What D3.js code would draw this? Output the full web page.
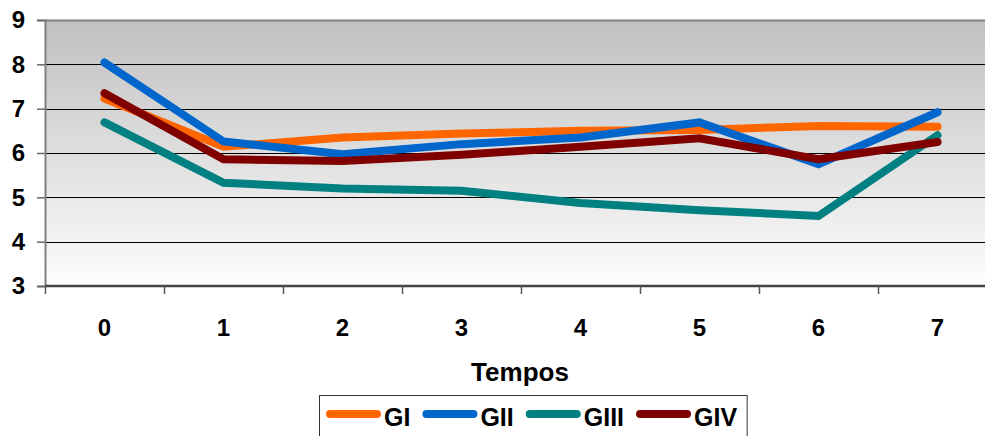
<!DOCTYPE html>
<html>
<head>
<meta charset="utf-8">
<script src="https://cdn.jsdelivr.net/npm/d3@7"></script>
<style>
  body { margin: 0; background: #fff; }
  svg { display: block; font-family: Arial, "Liberation Sans", sans-serif; }
</style>
</head>
<body>
<svg width="985" height="436"></svg>
<script>
const width = 985;
const height = 436;

const tempos = [0, 1, 2, 3, 4, 5, 6, 7];
const yTicks = [3, 4, 5, 6, 7, 8, 9];
const seriesNames = ["GI", "GII", "GIII", "GIV"];
const colors = ["#ff6600", "#0066cc", "#008080", "#800000"];

const GI = [7.23, 6.14, 6.35, 6.44, 6.50, 6.52, 6.61, 6.59];
const GII = [8.04, 6.26, 5.97, 6.20, 6.35, 6.69, 5.75, 6.92];
const GIII = [6.69, 5.33, 5.20, 5.15, 4.87, 4.71, 4.58, 6.40];
const GIV = [7.35, 5.86, 5.82, 5.96, 6.14, 6.33, 5.86, 6.25];
const values = [GI, GII, GIII, GIV];

// area of the plot (right side runs past the picture)
const plot = { left: 45, top: 20, bottom: 286, band: 119 };

const svg = d3.select("svg");

const x = d3.scaleBand()
    .domain(tempos)
    .range([plot.left, plot.left + plot.band * tempos.length]);
const y = d3.scaleLinear().domain([3, 9]).range([plot.bottom, plot.top]);

// fondo degradado
const grad = svg.append("defs").append("linearGradient")
    .attr("id", "bg").attr("x1", 0).attr("y1", 0).attr("x2", 0).attr("y2", 1);
grad.append("stop").attr("offset", "0%").attr("stop-color", "#c0c0c0");
grad.append("stop").attr("offset", "100%").attr("stop-color", "#fdfdfd");

svg.append("rect")
    .attr("x", plot.left)
    .attr("y", plot.top)
    .attr("width", x.range()[1] - plot.left)
    .attr("height", plot.bottom - plot.top)
    .attr("fill", "url(#bg)");

// líneas de cuadrícula
svg.append("g")
    .selectAll("line")
    .data(yTicks.filter((d) => d > 3 && d < 9))
    .join("line")
    .attr("x1", plot.left)
    .attr("x2", width)
    .attr("y1", (d) => Math.round(y(d)) + 0.5)
    .attr("y2", (d) => Math.round(y(d)) + 0.5)
    .attr("stroke", "#000")
    .attr("stroke-width", 1);

// borde superior
svg.append("line")
    .attr("x1", plot.left).attr("x2", width)
    .attr("y1", plot.top + 0.5).attr("y2", plot.top + 0.5)
    .attr("stroke", "#808080").attr("stroke-width", 2);

// eje Y
const yAxis = d3.axisLeft(y)
    .tickValues(yTicks)
    .tickFormat(d3.format("d"))
    .tickSize(8)
    .tickPadding(12);
const yAxisG = svg.append("g")
    .attr("transform", `translate(${plot.left},0)`)
    .call(yAxis);
yAxisG.select(".domain").attr("stroke", "#808080").attr("stroke-width", 2);
yAxisG.selectAll(".tick line").attr("stroke", "#666").attr("stroke-width", 1.5);
yAxisG.selectAll(".tick text")
    .attr("font-size", 24)
    .attr("font-weight", "bold")
    .attr("fill", "#000")
    .attr("font-family", "Arial, 'Liberation Sans', sans-serif");

// eje X
const xAxisG = svg.append("g").attr("transform", `translate(0,${plot.bottom})`);
xAxisG.append("line")
    .attr("x1", plot.left).attr("x2", width)
    .attr("y1", 0).attr("y2", 0)
    .attr("stroke", "#444").attr("stroke-width", 2.5);
xAxisG.selectAll(".xtick")
    .data(tempos)
    .join("line")
    .attr("class", "xtick")
    .attr("x1", (d) => x(d) + 0.5)
    .attr("x2", (d) => x(d) + 0.5)
    .attr("y1", 0)
    .attr("y2", 8)
    .attr("stroke", "#555")
    .attr("stroke-width", 1.5);
xAxisG.selectAll(".xlabel")
    .data(tempos)
    .join("text")
    .attr("class", "xlabel")
    .attr("x", (d) => x(d) + x.bandwidth() / 2)
    .attr("y", 50)
    .attr("text-anchor", "middle")
    .attr("font-size", 24)
    .attr("font-weight", "bold")
    .text((d) => d);

svg.append("text")
    .attr("x", 520)
    .attr("y", 381)
    .attr("text-anchor", "middle")
    .attr("font-size", 26)
    .attr("font-weight", "bold")
    .text("Tempos");

// series
const line = d3.line()
    .x((d, i) => x(tempos[i]) + x.bandwidth() / 2)
    .y((d) => y(d));

svg.append("g")
    .selectAll("path")
    .data(values)
    .join("path")
    .attr("d", line)
    .attr("fill", "none")
    .attr("stroke", (d, i) => colors[i])
    .attr("stroke-width", 8)
    .attr("stroke-linecap", "round")
    .attr("stroke-linejoin", "miter");

// leyenda
const legend = svg.append("g");
const legendBox = legend.append("rect")
    .attr("x", 319.5).attr("y", 395.5)
    .attr("height", 60)
    .attr("fill", "#fff")
    .attr("stroke", "#333")
    .attr("stroke-width", 1);

let cx = 330;
seriesNames.forEach((name, i) => {
    legend.append("line")
        .attr("x1", cx).attr("x2", cx + 47)
        .attr("y1", 414).attr("y2", 414)
        .attr("stroke", colors[i])
        .attr("stroke-width", 8)
        .attr("stroke-linecap", "round");
    const t = legend.append("text")
        .attr("x", cx + 54)
        .attr("y", 426)
        .attr("font-size", 25)
        .attr("font-weight", "bold")
        .text(name);
    cx += 54 + t.node().getComputedTextLength() + 16;
});
legendBox.attr("width", cx - 16 + 10 - 319.5);
</script>
</body>
</html>
